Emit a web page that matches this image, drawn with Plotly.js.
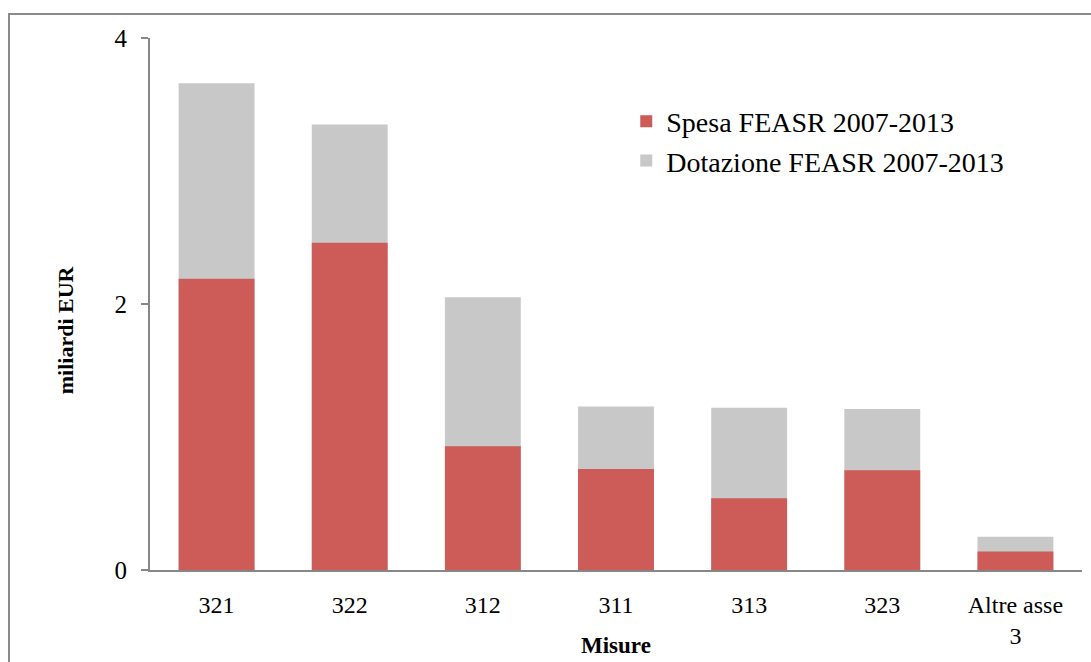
<!DOCTYPE html>
<html>
<head>
<meta charset="utf-8">
<script src="https://cdn.plot.ly/plotly-3.0.1.min.js"></script>
<style>html,body{margin:0;padding:0;background:#fff;}#chart{width:1091px;height:662px;}</style>
</head>
<body>
<div id="chart"></div>
<script>
const categories = ["321", "322", "312", "311", "313", "323", "Altre asse<br>3"];
const dotazione = [3.66, 3.35, 2.05, 1.23, 1.22, 1.21, 0.25];
const spesa = [2.19, 2.46, 0.93, 0.76, 0.54, 0.75, 0.14];
const seriesNames = ["Spesa FEASR 2007-2013", "Dotazione FEASR 2007-2013"];
const yTicks = [0, 2, 4];

const FONT = "Liberation Serif";

const traces = [
  {
    type: "bar",
    x: categories,
    y: dotazione,
    name: seriesNames[1],
    marker: {color: "#C8C8C8"},
    width: 0.57,
    hoverinfo: "x+y+name"
  },
  {
    type: "bar",
    x: categories,
    y: spesa,
    name: seriesNames[0],
    marker: {color: "#CD5B57"},
    width: 0.57,
    hoverinfo: "x+y+name"
  }
];

const layout = {
  width: 1091,
  height: 662,
  margin: {l: 150, r: 9, t: 38, b: 92},
  paper_bgcolor: "#ffffff",
  plot_bgcolor: "#ffffff",
  barmode: "overlay",
  font: {family: FONT, color: "#000000", size: 24},
  showlegend: true,
  legend: {
    x: 0.511, y: 0.89, xanchor: "left", yanchor: "top",
    traceorder: "reversed",
    font: {family: FONT, size: 28, color: "#000"},
    bgcolor: "rgba(0,0,0,0)",
    itemclick: false
  },
  xaxis: {
    type: "category",
    showgrid: false,
    zeroline: false,
    showline: true,
    linecolor: "#878787",
    linewidth: 2,
    ticks: "",
    ticklabelstandoff: 12,
    tickfont: {family: FONT, size: 24, color: "#000"},
    fixedrange: true
  },
  yaxis: {
    range: [0, 4],
    tickvals: yTicks,
    ticktext: yTicks.map(String),
    showgrid: false,
    zeroline: false,
    showline: true,
    linecolor: "#878787",
    linewidth: 2,
    ticks: "outside",
    ticklen: 7,
    tickwidth: 2,
    tickcolor: "#878787",
    ticklabelstandoff: 9,
    tickfont: {family: FONT, size: 25, color: "#000"},
    fixedrange: true
  },
  annotations: [
    {
      text: "<b>miliardi EUR</b>",
      xref: "paper", yref: "paper",
      x: -0.091, y: 0.451,
      xanchor: "center", yanchor: "middle",
      textangle: -90,
      showarrow: false,
      font: {family: FONT, size: 22, color: "#000"}
    },
    {
      text: "<b>Misure</b>",
      xref: "paper", yref: "paper",
      x: 0.5, y: -0.141,
      xanchor: "center", yanchor: "middle",
      showarrow: false,
      font: {family: FONT, size: 23, color: "#000"}
    }
  ],
  shapes: [
    {
      type: "rect",
      xref: "paper", yref: "paper",
      x0: -0.1513, x1: 1.2, y0: -0.4, y1: 1.0451,
      line: {color: "#8A8A8A", width: 2},
      fillcolor: "rgba(0,0,0,0)",
      layer: "below"
    }
  ]
};

Plotly.newPlot("chart", traces, layout, {displayModeBar: false});
</script>
</body>
</html>
